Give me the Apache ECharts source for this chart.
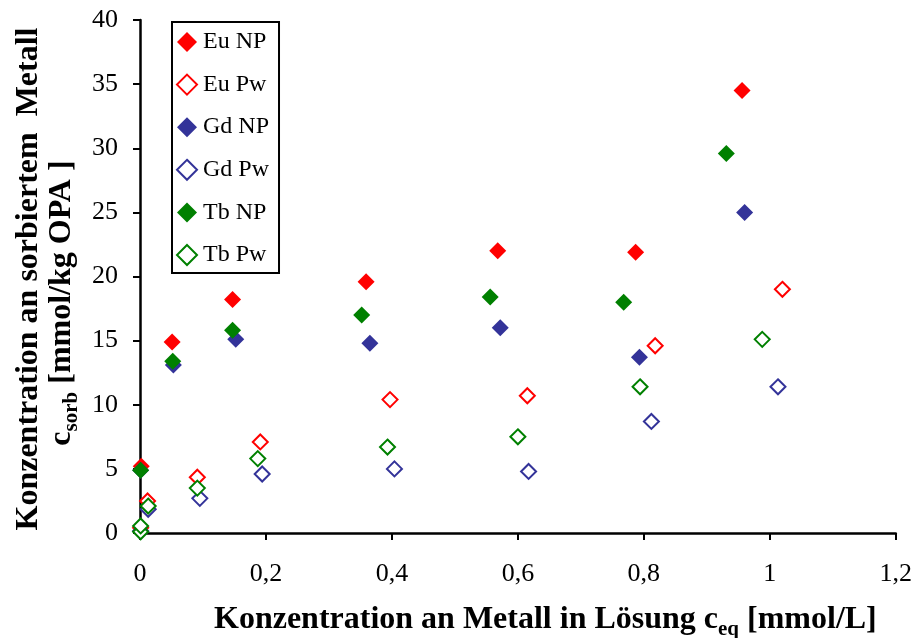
<!DOCTYPE html>
<html>
<head>
<meta charset="utf-8">
<script src="https://cdn.jsdelivr.net/npm/echarts@6/dist/echarts.min.js"></script>
<style>
  html, body { margin: 0; padding: 0; background: #fff; }
  #chart { width: 915px; height: 638px; }
</style>
</head>
<body>
<div id="chart"></div>
<script>
// Sorption data: [c_eq (mmol/L), c_sorb (mmol/kg OPA)]
const euNP = [[0.002, 5.2], [0.051, 14.9], [0.147, 18.2], [0.359, 19.6], [0.568, 22.0], [0.787, 21.9], [0.956, 34.5]];
const euPw = [[0.001, 0.4], [0.012, 2.5], [0.091, 4.35], [0.191, 7.1], [0.397, 10.4], [0.615, 10.7], [0.818, 14.6], [1.020, 19.0]];
const gdNP = [[0.001, 4.9], [0.053, 13.1], [0.152, 15.1], [0.365, 14.8], [0.572, 16.0], [0.793, 13.7], [0.960, 25.0]];
const gdPw = [[0.001, 0.15], [0.013, 1.85], [0.095, 2.7], [0.194, 4.6], [0.404, 5.0], [0.617, 4.8], [0.812, 8.7], [1.013, 11.4]];
const tbNP = [[0.001, 4.9], [0.052, 13.4], [0.147, 15.8], [0.352, 17.0], [0.556, 18.4], [0.768, 18.0], [0.931, 29.6]];
const tbPw = [[0.001, 0.1], [0.001, 0.55], [0.013, 2.1], [0.091, 3.5], [0.187, 5.8], [0.393, 6.7], [0.600, 7.5], [0.794, 11.4], [0.988, 15.1]];

const seriesNames = ['Eu NP', 'Eu Pw', 'Gd NP', 'Gd Pw', 'Tb NP', 'Tb Pw'];
const xTitle = ['Konzentration an Metall in Lösung c', 'eq', ' [mmol/L]'];
const yTitleLine1 = 'Konzentration an sorbiertem  Metall';
const yTitleLine2 = ['c', 'sorb', ' [mmol/kg OPA ]'];

const SERIF = '"Liberation Serif", "Times New Roman", serif';
const RED = '#ff0000', BLUE = '#333399', GREEN = '#008000';

function filled(name, data, color) {
  return {
    name, type: 'scatter', data, symbol: 'diamond', symbolSize: 17,
    itemStyle: { color, opacity: 1 }
  };
}
function hollow(name, data, color) {
  return {
    name, type: 'scatter', data, symbol: 'diamond', symbolSize: 15,
    itemStyle: { color: '#fff', borderColor: color, borderWidth: 2, opacity: 1 }
  };
}

const chart = echarts.init(document.getElementById('chart'), null, { renderer: 'canvas' });

const axisCommon = {
  axisLine: { show: true, onZero: false, lineStyle: { color: '#000', width: 2.5 } },
  axisTick: { show: true, inside: false, length: 7, lineStyle: { color: '#000', width: 2 } },
  splitLine: { show: false },
  axisLabel: { color: '#000', fontFamily: SERIF, fontSize: 26 }
};

const richTitle = {
  b: { fontFamily: SERIF, fontWeight: 'bold', fontSize: 32, fill: '#000', verticalAlign: 'top', lineHeight: 36 },
  s: { fontFamily: SERIF, fontWeight: 'bold', fontSize: 21, fill: '#000', verticalAlign: 'top', lineHeight: 23, padding: [15, 0, 0, 0] }
};

chart.setOption({
  backgroundColor: '#fff',
  animation: false,
  grid: { left: 140, right: 17, top: 20, bottom: 105, containLabel: false },
  xAxis: Object.assign({}, axisCommon, {
    type: 'value', min: 0, max: 1.2, interval: 0.2,
    axisLabel: Object.assign({}, axisCommon.axisLabel, {
      margin: 28,
      formatter: v => String(Math.round(v * 10) / 10).replace('.', ',')
    })
  }),
  yAxis: Object.assign({}, axisCommon, {
    type: 'value', min: 0, max: 40, interval: 5,
    axisLabel: Object.assign({}, axisCommon.axisLabel, { margin: 22 })
  }),
  legend: {
    orient: 'vertical', left: 172, top: 22,
    data: seriesNames,
    icon: 'diamond',
    itemWidth: 20, itemHeight: 20, itemGap: 18.6,
    padding: [8, 10, 6, 4],
    borderColor: '#000', borderWidth: 2,
    textStyle: { color: '#000', fontFamily: SERIF, fontSize: 24, padding: [0, 0, 0, 1] }
  },
  series: [
    filled('Eu NP', euNP, RED),
    hollow('Eu Pw', euPw, RED),
    filled('Gd NP', gdNP, BLUE),
    hollow('Gd Pw', gdPw, BLUE),
    filled('Tb NP', tbNP, GREEN),
    hollow('Tb Pw', tbPw, GREEN)
  ],
  graphic: [
    {
      type: 'text', left: 214, top: 604, z: 10,
      style: {
        text: '{b|' + xTitle[0] + '}{s|' + xTitle[1] + '}{b|' + xTitle[2] + '}',
        rich: richTitle
      }
    },
    {
      type: 'text', x: 29, y: 279, rotation: Math.PI / 2, z: 10,
      style: {
        text: yTitleLine1, fill: '#000',
        fontFamily: SERIF, fontWeight: 'bold', fontSize: 32,
        align: 'center', verticalAlign: 'middle'
      }
    },
    {
      type: 'text', x: 64, y: 303, rotation: Math.PI / 2, z: 10,
      style: {
        text: '{b|' + yTitleLine2[0] + '}{s|' + yTitleLine2[1] + '}{b|' + yTitleLine2[2] + '}',
        align: 'center', verticalAlign: 'middle',
        rich: richTitle
      }
    }
  ]
});
</script>
</body>
</html>
